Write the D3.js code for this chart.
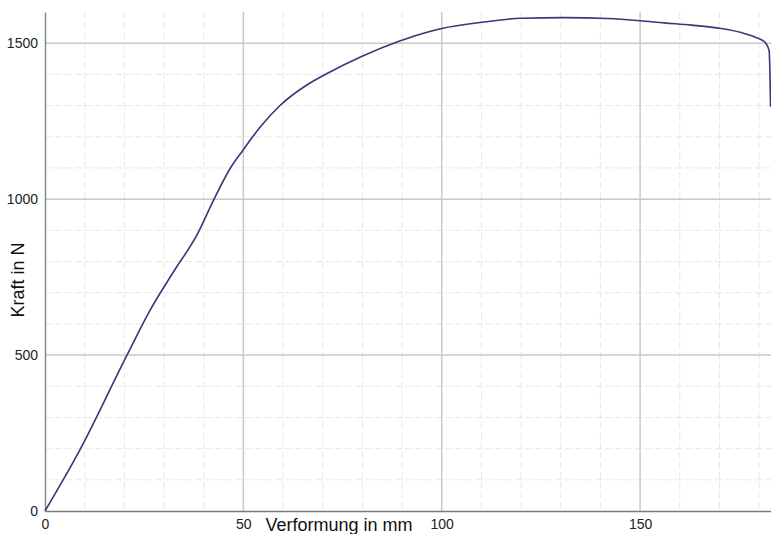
<!DOCTYPE html>
<html>
<head>
<meta charset="utf-8">
<script src="https://cdn.jsdelivr.net/npm/d3@7"></script>
<style>
  body { margin: 0; background: #fff; }
  svg { display: block; font-family: "Liberation Sans", Arial, sans-serif; }
</style>
</head>
<body>
<div id="chart"></div>
<script>
// Force-deformation curve
const deformation = [0, 8.8, 20.6, 26.5, 32.4, 38.3, 42.5, 46.7, 49.9, 54.3, 59.3, 66, 71.1, 79.5, 89.6, 97.2, 100, 110.7, 120, 130.9, 141.8, 150, 156.1, 162.9, 170.5, 175.5, 178.9, 181.4, 182.5, 182.7, 182.9];
const force = [0, 196, 498, 644, 767, 885, 997, 1099, 1157, 1232, 1301, 1366, 1403, 1456, 1508, 1538, 1547, 1568, 1580, 1582, 1579, 1572, 1565, 1558, 1547, 1534, 1520, 1504, 1478, 1424, 1296];

const xTicks = [0, 50, 100, 150];
const yTicks = [0, 500, 1000, 1500];
const xMinor = [10, 20, 30, 40, 60, 70, 80, 90, 110, 120, 130, 140, 160, 170, 180];
const yMinor = [100, 200, 300, 400, 600, 700, 800, 900, 1100, 1200, 1300, 1400];

const xLabel = 'Verformung in mm';
const yLabel = 'Kraft in N';

const data = deformation.map((d, i) => ({ x: d, y: force[i] }));

const W = 771, H = 534;
const margin = { top: 12, right: 0, bottom: 23, left: 45 };
const width = W - margin.left - margin.right;
const height = H - margin.top - margin.bottom;

const svg = d3.select('#chart')
    .append('svg')
    .attr('width', W)
    .attr('height', H);

const g = svg.append('g')
    .attr('transform', `translate(${margin.left},${margin.top})`);

const xScale = d3.scaleLinear().domain([0, 183]).range([0, width]);
const yScale = d3.scaleLinear().domain([0, 1600]).range([height, 0]);

// Minor grid (dashed, very light)
g.selectAll('.vminor')
    .data(xMinor)
    .enter()
    .append('line')
    .attr('x1', d => xScale(d)).attr('x2', d => xScale(d))
    .attr('y1', 0).attr('y2', height)
    .attr('stroke', '#e8e8e8')
    .attr('stroke-dasharray', '7,3');

g.selectAll('.hminor')
    .data(yMinor)
    .enter()
    .append('line')
    .attr('x1', 0).attr('x2', width)
    .attr('y1', d => yScale(d)).attr('y2', d => yScale(d))
    .attr('stroke', '#e8e8e8')
    .attr('stroke-dasharray', '7,3');

// Major grid
g.selectAll('.vmajor')
    .data(xTicks.filter(d => d > 0))
    .enter()
    .append('line')
    .attr('x1', d => xScale(d)).attr('x2', d => xScale(d))
    .attr('y1', 0).attr('y2', height)
    .attr('stroke', '#c8c8c8')
    .attr('stroke-width', 1.5);

g.selectAll('.hmajor')
    .data(yTicks.filter(d => d > 0))
    .enter()
    .append('line')
    .attr('x1', 0).attr('x2', width)
    .attr('y1', d => yScale(d)).attr('y2', d => yScale(d))
    .attr('stroke', '#c8c8c8')
    .attr('stroke-width', 1.5);

// Axes (no tick marks)
const xAxis = d3.axisBottom(xScale).tickValues(xTicks).tickSize(0).tickPadding(8)
    .tickFormat(d3.format('d'));
const yAxis = d3.axisLeft(yScale).tickValues(yTicks).tickSize(0).tickPadding(7)
    .tickFormat(d3.format('d'));

const gx = g.append('g')
    .attr('transform', `translate(0,${height})`)
    .call(xAxis);
gx.select('.domain').attr('stroke', '#7a7a7a').attr('stroke-width', 1.5);
gx.selectAll('text').attr('font-size', '14px').attr('fill', '#222')
    .attr('font-family', '"Liberation Sans", Arial, sans-serif');

const gy = g.append('g').call(yAxis);
gy.select('.domain').attr('stroke', '#8a8a8a').attr('stroke-width', 1.5);
gy.selectAll('text').attr('font-size', '14px').attr('fill', '#222')
    .attr('font-family', '"Liberation Sans", Arial, sans-serif');

// Axis titles
svg.append('text')
    .attr('x', 339)
    .attr('y', 531)
    .attr('text-anchor', 'middle')
    .attr('font-size', '18px')
    .attr('fill', '#111')
    .text(xLabel);

svg.append('text')
    .attr('transform', 'rotate(-90)')
    .attr('x', -280)
    .attr('y', 24)
    .attr('text-anchor', 'middle')
    .attr('font-size', '18px')
    .attr('fill', '#111')
    .text(yLabel);

// Curve
const line = d3.line()
    .x(d => xScale(d.x))
    .y(d => yScale(d.y))
    .curve(d3.curveMonotoneX);

g.append('path')
    .datum(data)
    .attr('fill', 'none')
    .attr('stroke', '#33397a')
    .attr('stroke-width', 1.6)
    .attr('d', line);
</script>
</body>
</html>
